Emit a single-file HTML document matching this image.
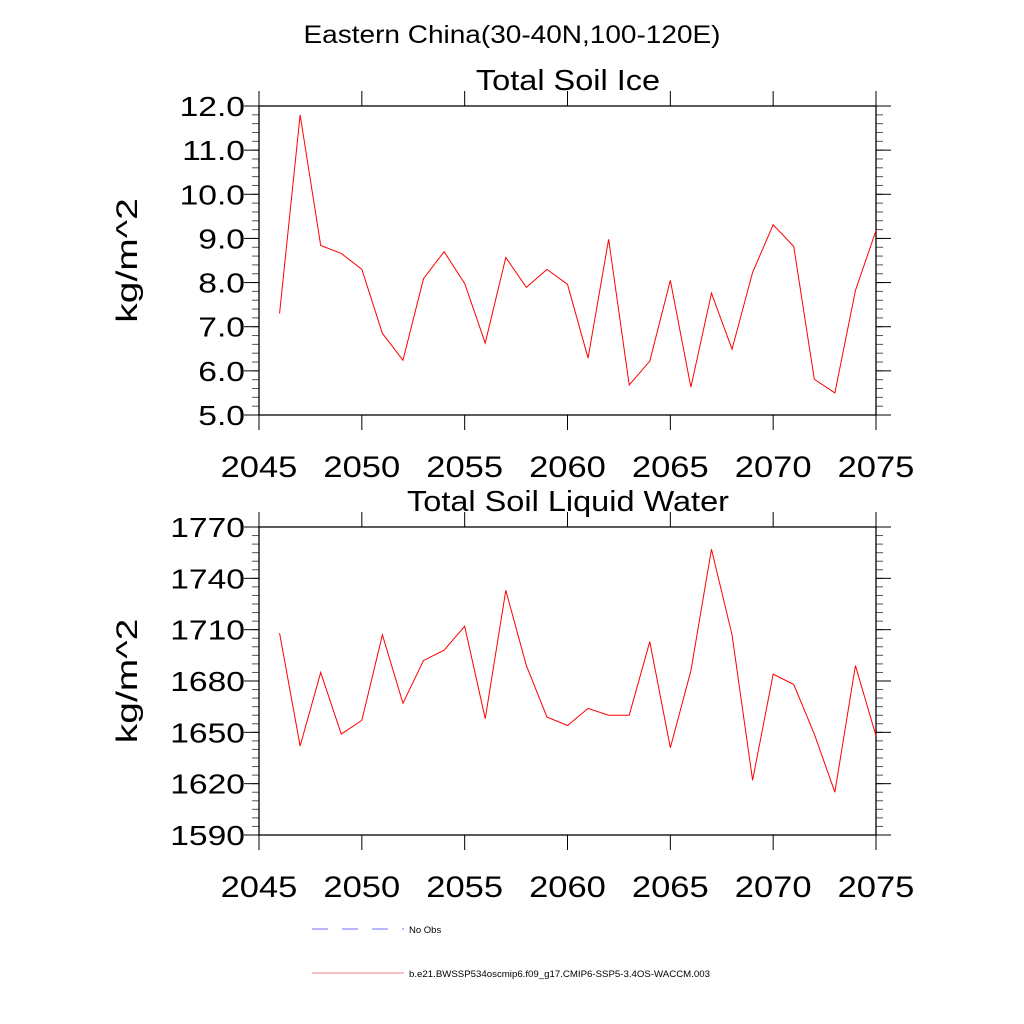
<!DOCTYPE html>
<html><head><meta charset="utf-8"><style>
body{margin:0;background:#fff}
svg{display:block;font-family:"Liberation Sans",sans-serif}
</style></head><body>
<svg id="c" width="1024" height="1024" viewBox="0 0 1024 1024">
<text x="512" y="43" font-size="25" text-anchor="middle" textLength="417" lengthAdjust="spacingAndGlyphs">Eastern China(30-40N,100-120E)</text>
<g>
<line x1="312" y1="929" x2="404" y2="929" stroke="#7070ff" stroke-width="1" stroke-dasharray="16,14"/>
<text x="409" y="933" font-size="9.5">No Obs</text>
<line x1="312" y1="973" x2="404" y2="973" stroke="#f08080" stroke-width="1"/>
<text x="409" y="977" font-size="9.5" textLength="301" lengthAdjust="spacingAndGlyphs">b.e21.BWSSP534oscmip6.f09_g17.CMIP6-SSP5-3.4OS-WACCM.003</text>
</g>
</svg>
<script>
const years=[2046,2047,2048,2049,2050,2051,2052,2053,2054,2055,2056,2057,2058,2059,2060,2061,2062,2063,2064,2065,2066,2067,2068,2069,2070,2071,2072,2073,2074,2075];
const iceValues=[7.30,11.80,8.84,8.66,8.30,6.85,6.24,8.09,8.70,7.98,6.63,8.57,7.89,8.30,7.96,6.29,8.98,5.68,6.22,8.05,5.63,7.76,6.49,8.23,9.31,8.82,5.81,5.50,7.82,9.18];
const liquidValues=[1708,1642,1685,1649,1657,1707,1667,1692,1698,1712,1658,1733,1689,1659,1654,1664,1660,1660,1703,1641,1686,1757,1707,1622,1684,1678,1649,1615,1689,1648];
const xTicks=[2045,2050,2055,2060,2065,2070,2075];
const iceTicks=["5.0","6.0","7.0","8.0","9.0","10.0","11.0","12.0"];
const liquidTicks=["1590","1620","1650","1680","1710","1740","1770"];
const NS="http://www.w3.org/2000/svg";
const svg=document.getElementById('c');
function mk(t,a,p){const e=document.createElementNS(NS,t);for(const k in a)e.setAttribute(k,a[k]);(p||svg).appendChild(e);return e;}
function widen(el,f){const w=el.getComputedTextLength();el.setAttribute('textLength',w*f);el.setAttribute('lengthAdjust','spacingAndGlyphs');}
function panel(name,title,top,bottom,ticks,minorStep,vals){
  const L=259,R=876,x0=2045,x1=2075;
  const y0=parseFloat(ticks[0]),y1=parseFloat(ticks[ticks.length-1]);
  const sx=v=>L+(v-x0)/(x1-x0)*(R-L);
  const sy=v=>bottom-(v-y0)/(y1-y0)*(bottom-top);
  const g=mk('g',{});
  
  
  const t=mk('text',{x:568,y:top-16,'font-size':29,'text-anchor':'middle'},g);t.textContent=title;
  
  
  widen(t,1.12);
  const yl=mk('text',{x:0,y:0,'font-size':30,'text-anchor':'middle',transform:`translate(137,${(top+bottom)/2}) rotate(-90)`},g);yl.textContent='kg/m^2';
  
  
  widen(yl,1.3);
  for(let v=y0;v<=y1+1e-9;v+=minorStep){const y=sy(v);
    mk('line',{x1:L-7,y1:y,x2:L,y2:y,stroke:'#555'},g);mk('line',{x1:R,y1:y,x2:R+7,y2:y,stroke:'#555'},g);}
  ticks.forEach(s=>{const y=sy(parseFloat(s));
    mk('line',{x1:L-15,y1:y,x2:L,y2:y,stroke:'#000'},g);mk('line',{x1:R,y1:y,x2:R+15,y2:y,stroke:'#000'},g);
    const tx=mk('text',{x:L-14,y:y+10,'font-size':28,'text-anchor':'end'},g);tx.textContent=s;
    
    
    widen(tx,1.2);});
  xTicks.forEach(v=>{const x=sx(v);
    mk('line',{x1:x,y1:top-15,x2:x,y2:top,stroke:'#000'},g);mk('line',{x1:x,y1:bottom,x2:x,y2:bottom+15,stroke:'#000'},g);
    const tx=mk('text',{x:x,y:bottom+62,'font-size':30,'text-anchor':'middle'},g);tx.textContent=v;
    
    
    widen(tx,1.15);});
  const fr=mk('rect',{x:L,y:top,width:R-L,height:bottom-top,fill:'none',stroke:'#000','stroke-width':1.3},g);
  
  
  const pl=mk('polyline',{points:years.map((yr,i)=>sx(yr)+','+sy(vals[i])).join(' '),fill:'none',stroke:'#f00','stroke-width':1},g);
  
  
}
panel('soil-ice','Total Soil Ice',106,415,iceTicks,0.2,iceValues);
panel('soil-liquid','Total Soil Liquid Water',527,835,liquidTicks,5,liquidValues);
</script>
</body></html>
